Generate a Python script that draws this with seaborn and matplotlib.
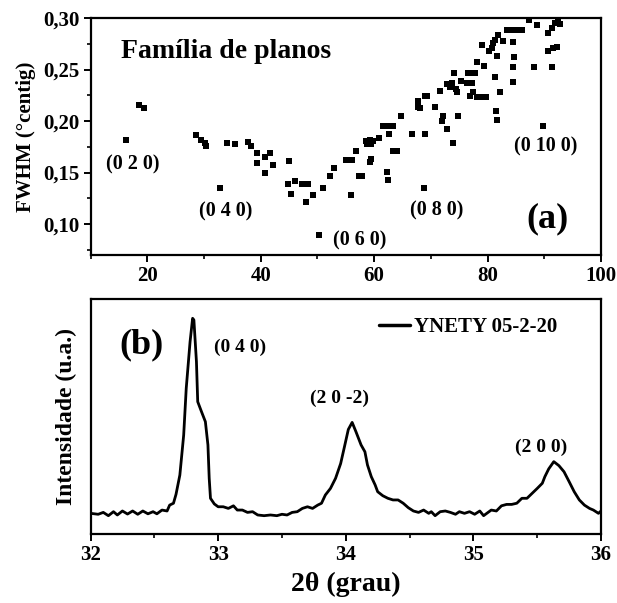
import matplotlib
matplotlib.use("Agg")
import matplotlib.pyplot as plt
from matplotlib.ticker import MultipleLocator, FuncFormatter
import seaborn as sns
import pandas as pd

# ---- (a) FWHM of each family of planes vs 2-theta ----
fwhm_2theta = [
    16.2, 18.6, 19.5, 28.6, 29.5, 30.2, 30.4, 32.9, 34.0, 35.4,
    37.8, 38.3, 39.3, 39.3, 40.8, 40.8, 41.7, 42.1, 45.0, 44.9,
    46.1, 45.3, 47.2, 48.3, 48.0, 49.2, 50.9, 50.3, 52.2, 52.9,
    55.0, 56.1, 55.9, 56.8, 57.4, 57.8, 59.2, 59.5, 58.6, 59.3,
    59.8, 58.8, 59.4, 60.8, 61.5, 62.5, 63.4, 62.7, 62.2, 62.4,
    63.4, 64.0, 64.7, 66.6, 69.0, 67.8, 67.7, 68.1, 69.0, 69.3,
    68.8, 70.7, 71.6, 72.2, 71.9, 72.8, 73.9, 74.7, 72.8, 73.3,
    73.7, 74.1, 74.5, 74.6, 75.3, 76.3, 77.2, 76.6, 77.2, 77.8,
    76.9, 77.4, 78.1, 79.0, 79.8, 78.1, 79.4, 81.3, 82.2, 79.1,
    80.3, 80.7, 80.9, 81.3, 81.9, 81.6, 81.5, 81.6, 82.8, 83.4,
    84.3, 85.1, 86.0, 84.5, 84.7, 84.4, 84.4, 87.3, 88.7, 88.2,
    89.8, 90.7, 91.3, 91.9, 92.8, 92.5, 90.7, 91.5, 92.2, 91.3,
]
fwhm_values = [
    0.182, 0.216, 0.213, 0.186, 0.182, 0.179, 0.176, 0.135, 0.179, 0.178,
    0.180, 0.176, 0.169, 0.159, 0.165, 0.150, 0.169, 0.157, 0.161, 0.139,
    0.142, 0.129, 0.139, 0.139, 0.121, 0.128, 0.135, 0.089, 0.147, 0.154,
    0.162, 0.162, 0.128, 0.171, 0.147, 0.147, 0.160, 0.163, 0.181, 0.182,
    0.181, 0.178, 0.178, 0.184, 0.195, 0.195, 0.195, 0.187, 0.151, 0.143,
    0.171, 0.171, 0.205, 0.187, 0.187, 0.219, 0.214, 0.213, 0.224, 0.224,
    0.135, 0.214, 0.229, 0.205, 0.200, 0.192, 0.179, 0.205, 0.236, 0.233,
    0.237, 0.247, 0.231, 0.228, 0.239, 0.237, 0.237, 0.247, 0.247, 0.247,
    0.224, 0.228, 0.223, 0.223, 0.223, 0.257, 0.253, 0.243, 0.228, 0.274,
    0.268, 0.271, 0.276, 0.279, 0.284, 0.263, 0.210, 0.201, 0.278, 0.288,
    0.288, 0.288, 0.288, 0.277, 0.262, 0.252, 0.238, 0.298, 0.293, 0.252,
    0.195, 0.285, 0.290, 0.295, 0.294, 0.297, 0.268, 0.271, 0.272, 0.252,
]
plane_labels = ["(0 2 0)", "(0 4 0)", "(0 6 0)", "(0 8 0)", "(0 10 0)"]
plane_label_x = [17.4, 33.8, 57.5, 71.0, 90.3]
plane_label_y = [0.158, 0.112, 0.084, 0.113, 0.175]

# ---- (b) diffractogram of sample YNETY 05-2-20 ----
two_theta = [
    32.00, 32.06, 32.10, 32.14, 32.18, 32.21, 32.25, 32.29, 32.33, 32.37,
    32.41, 32.45, 32.49, 32.52, 32.56, 32.60, 32.62, 32.65, 32.67, 32.70,
    32.73, 32.75, 32.78, 32.80, 32.81, 32.83, 32.84, 32.87, 32.90, 32.92,
    32.93, 32.94, 32.97, 33.00, 33.04, 33.08, 33.12, 33.15, 33.19, 33.23,
    33.27, 33.31, 33.36, 33.41, 33.46, 33.50, 33.54, 33.58, 33.62, 33.66,
    33.70, 33.74, 33.78, 33.81, 33.84, 33.88, 33.92, 33.96, 33.99, 34.02,
    34.05, 34.08, 34.12, 34.15, 34.17, 34.20, 34.23, 34.25, 34.29, 34.33,
    34.37, 34.41, 34.45, 34.49, 34.53, 34.57, 34.61, 34.65, 34.67, 34.70,
    34.74, 34.78, 34.82, 34.86, 34.89, 34.93, 34.97, 35.01, 35.05, 35.08,
    35.14, 35.18, 35.22, 35.26, 35.30, 35.34, 35.38, 35.42, 35.46, 35.50,
    35.54, 35.56, 35.59, 35.63, 35.67, 35.71, 35.75, 35.79, 35.83, 35.87,
    35.91, 35.94, 35.98, 36.00,
]
intensity = [
    88, 84, 92, 78, 95, 81, 98, 85, 98, 84,
    98, 86, 95, 86, 102, 98, 123, 131, 169, 251,
    421, 620, 818, 918, 911, 733, 563, 520, 478, 379,
    237, 152, 128, 116, 116, 109, 120, 102, 102, 92,
    95, 81, 78, 81, 78, 84, 81, 92, 95, 109,
    116, 109, 123, 131, 166, 194, 237, 300, 372, 445,
    475, 435, 379, 350, 294, 244, 209, 180, 163, 152,
    145, 145, 131, 112, 98, 92, 102, 88, 95, 78,
    95, 98, 92, 84, 95, 88, 95, 84, 98, 78,
    102, 98, 120, 126, 126, 131, 152, 152, 173, 194,
    216, 244, 277, 308, 291, 265, 223, 180, 145, 123,
    109, 102, 88, 98,
]
peak_labels = ["(0 4 0)", "(2 0 -2)", "(2 0 0)"]
peak_label_x = [33.17, 33.95, 35.53]
peak_label_y = [796, 579, 370]
sample_name = "YNETY 05-2-20"

sns.set_style("ticks")
plt.rcParams["font.family"] = ["Liberation Serif", "DejaVu Serif"]
plt.rcParams["font.weight"] = "bold"
for key in ("text.color", "axes.labelcolor", "axes.edgecolor",
            "xtick.color", "ytick.color"):
    plt.rcParams[key] = "black"
plt.rcParams["axes.linewidth"] = 1.6
plt.rcParams["xtick.major.width"] = 1.4
plt.rcParams["ytick.major.width"] = 1.4
plt.rcParams["xtick.minor.width"] = 1.2
plt.rcParams["ytick.minor.width"] = 1.2
plt.rcParams["xtick.direction"] = "out"
plt.rcParams["ytick.direction"] = "out"

fig = plt.figure(figsize=(6.17, 6.03), dpi=100)
ax1 = fig.add_axes([0.1467, 0.5771, 0.8274, 0.3930])
ax2 = fig.add_axes([0.1467, 0.1144, 0.8274, 0.3897])

comma = FuncFormatter(lambda v, p: f"{v:.2f}".replace(".", ","))

# panel (a)
df_a = pd.DataFrame({"x": fwhm_2theta, "y": fwhm_values})
sns.scatterplot(data=df_a, x="x", y="y", ax=ax1, marker="s", s=22,
                color="black", linewidth=0, legend=False)
ax1.set_xlim(10, 100)
ax1.set_ylim(0.07, 0.30)
ax1.xaxis.set_major_locator(MultipleLocator(20))
ax1.xaxis.set_minor_locator(MultipleLocator(10))
ax1.yaxis.set_major_locator(MultipleLocator(0.05))
ax1.yaxis.set_minor_locator(MultipleLocator(0.025))
ax1.yaxis.set_major_formatter(comma)
ax1.set_xlabel("")
ax1.set_ylabel("FWHM (°centig)", fontsize=15, fontweight="bold", labelpad=5)
ax1.tick_params(axis="both", which="major", length=5, labelsize=15, pad=3)
ax1.tick_params(axis="both", which="minor", length=3)
for lab in ax1.get_xticklabels() + ax1.get_yticklabels():
    lab.set_fontweight("bold")
ax1.text(15.4, 0.268, "Família de planos", fontsize=20, fontweight="bold",
         ha="left", va="center")
ax1.text(90.5, 0.105, "(a)", fontsize=26, fontweight="bold",
         ha="center", va="center")
for lbl, lx, ly in zip(plane_labels, plane_label_x, plane_label_y):
    ax1.text(lx, ly, lbl, fontsize=14.5, fontweight="bold",
             ha="center", va="center")

# panel (b)
df_b = pd.DataFrame({"two_theta": two_theta, "intensity": intensity})
sns.lineplot(data=df_b, x="two_theta", y="intensity", ax=ax2, color="black",
             linewidth=2.0, label=sample_name, sort=False)
ax2.set_xlim(32, 36)
ax2.set_ylim(0, 1000)
ax2.xaxis.set_major_locator(MultipleLocator(1))
ax2.xaxis.set_minor_locator(MultipleLocator(0.5))
ax2.set_yticks([])
ax2.set_xlabel("2θ (grau)", fontsize=20, fontweight="bold", labelpad=5)
ax2.set_ylabel("Intensidade (u.a.)", fontsize=17, fontweight="bold", labelpad=10)
ax2.tick_params(axis="x", which="major", length=5, labelsize=15, pad=3)
ax2.tick_params(axis="x", which="minor", length=3)
for lab in ax2.get_xticklabels():
    lab.set_fontweight("bold")
ax2.text(32.40, 804, "(b)", fontsize=26, fontweight="bold",
         ha="center", va="center")
for lbl, lx, ly in zip(peak_labels, peak_label_x, peak_label_y):
    ax2.text(lx, ly, lbl, fontsize=14, fontweight="bold",
             ha="center", va="center")
leg = ax2.legend(loc="center left", bbox_to_anchor=(0.566, 0.881),
                 frameon=False, borderpad=0, borderaxespad=0,
                 handlelength=1.45, handletextpad=0.2,
                 prop={"size": 15, "weight": "bold"})
for text in leg.get_texts():
    text.set_color("black")
for line in leg.get_lines():
    line.set_linewidth(2.5)

fig.savefig("out.png", dpi=100)
